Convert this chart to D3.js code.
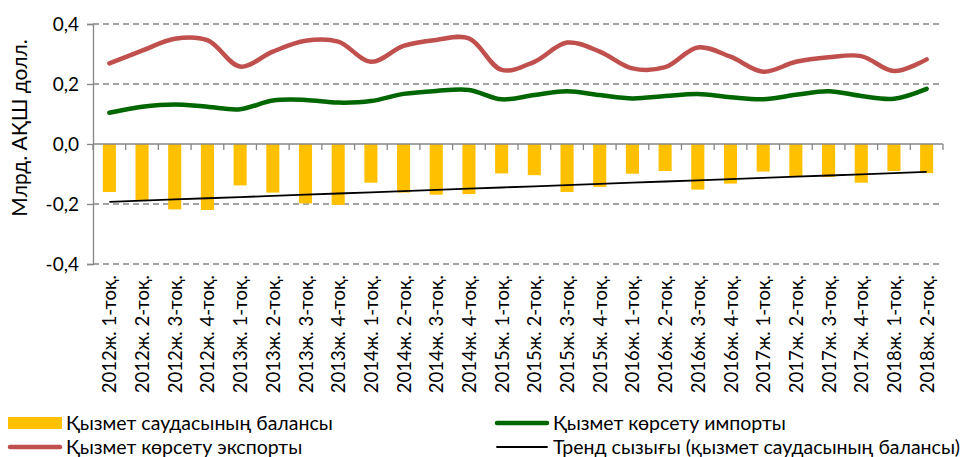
<!DOCTYPE html>
<html>
<head>
<meta charset="utf-8">
<script src="https://cdn.jsdelivr.net/npm/d3@7"></script>
<style>
body { margin: 0; background: #fff; }
svg { display: block; font-family: Lato, "Liberation Sans", sans-serif; }
</style>
</head>
<body>
<div id="viz"></div>
<script>
// quarters
var quarters = ["2012ж. 1-тоқ.", "2012ж. 2-тоқ.", "2012ж. 3-тоқ.", "2012ж. 4-тоқ.",
	"2013ж. 1-тоқ.", "2013ж. 2-тоқ.", "2013ж. 3-тоқ.", "2013ж. 4-тоқ.",
	"2014ж. 1-тоқ.", "2014ж. 2-тоқ.", "2014ж. 3-тоқ.", "2014ж. 4-тоқ.",
	"2015ж. 1-тоқ.", "2015ж. 2-тоқ.", "2015ж. 3-тоқ.", "2015ж. 4-тоқ.",
	"2016ж. 1-тоқ.", "2016ж. 2-тоқ.", "2016ж. 3-тоқ.", "2016ж. 4-тоқ.",
	"2017ж. 1-тоқ.", "2017ж. 2-тоқ.", "2017ж. 3-тоқ.", "2017ж. 4-тоқ.",
	"2018ж. 1-тоқ.", "2018ж. 2-тоқ."];

// service trade balance
var balance = [-0.160, -0.187, -0.218, -0.220, -0.138, -0.162, -0.198, -0.203,
	-0.129, -0.162, -0.169, -0.167, -0.098, -0.104, -0.160, -0.143,
	-0.099, -0.090, -0.152, -0.132, -0.092, -0.108, -0.110, -0.129,
	-0.090, -0.097];

// services import
var imports = [0.104, 0.124, 0.132, 0.124, 0.116, 0.145, 0.147, 0.138,
	0.143, 0.167, 0.177, 0.180, 0.149, 0.163, 0.176, 0.163,
	0.152, 0.160, 0.167, 0.156, 0.149, 0.164, 0.176, 0.160,
	0.151, 0.184];

// services export
var exportsData = [0.269, 0.311, 0.351, 0.346, 0.258, 0.308, 0.344, 0.341,
	0.274, 0.327, 0.347, 0.352, 0.247, 0.274, 0.338, 0.308,
	0.252, 0.256, 0.322, 0.291, 0.241, 0.274, 0.289, 0.293,
	0.243, 0.282];

var yTicks = [-0.4, -0.2, 0, 0.2, 0.4];

var legendNames = ["Қызмет саудасының балансы", "Қызмет көрсету импорты",
	"Қызмет көрсету экспорты", "Тренд сызығы (қызмет саудасының балансы)"];

var width = 965, height = 457;
var plotLeft = 93, plotRight = 943, plotTop = 24, plotBottom = 264;

var svg = d3.select("#viz").append("svg")
	.attr("width", width)
	.attr("height", height);

var x = d3.scaleBand().domain(quarters).range([plotLeft, plotRight]);
var y = d3.scaleLinear().domain([-0.4, 0.4]).range([plotBottom, plotTop]);
var cx = function(d){ return x(d) + x.bandwidth() / 2; };
var fmt = function(v){ return d3.format(".1f")(v).replace(".", ",").replace("−", "-"); };

// gridlines
svg.append("g").selectAll("line")
	.data(yTicks.filter(function(t){ return t != 0; }))
	.join("line")
	.attr("x1", plotLeft).attr("x2", plotRight)
	.attr("y1", function(d){ return y(d); })
	.attr("y2", function(d){ return y(d); })
	.style("stroke", "#868686")
	.style("stroke-width", 1.3)
	.style("stroke-dasharray", "6,4");

// y axis
var yAxis = svg.append("g")
	.attr("transform", "translate(" + plotLeft + ",0)")
	.call(d3.axisLeft(y).tickValues(yTicks).tickFormat(fmt).tickSize(6).tickPadding(8));
yAxis.select(".domain").style("stroke", "#868686").style("stroke-width", 1.3);
yAxis.selectAll(".tick line").style("stroke", "#868686").style("stroke-width", 1.3);
yAxis.selectAll("text").style("font-size", "19px").style("fill", "#000")
	.style("font-family", "Lato, sans-serif");

svg.append("text")
	.attr("transform", "translate(27,128) rotate(-90)")
	.attr("text-anchor", "middle")
	.style("font-size", "21px")
	.text("Млрд. АҚШ долл.");

// bars
var barW = x.bandwidth() * 0.4;
svg.append("g").selectAll("rect")
	.data(balance)
	.join("rect")
	.attr("x", function(d, i){ return cx(quarters[i]) - barW / 2; })
	.attr("y", function(d){ return y(Math.max(0, d)); })
	.attr("width", barW)
	.attr("height", function(d){ return Math.abs(y(d) - y(0)); })
	.style("fill", "#FFC000");

// zero axis with category ticks
svg.append("line")
	.attr("x1", plotLeft).attr("x2", plotRight)
	.attr("y1", y(0)).attr("y2", y(0))
	.style("stroke", "#868686").style("stroke-width", 1.3);
var bounds = quarters.map(function(d){ return x(d); }).concat([plotRight]);
svg.append("g").selectAll("line")
	.data(bounds)
	.join("line")
	.attr("x1", function(d){ return d; }).attr("x2", function(d){ return d; })
	.attr("y1", y(0)).attr("y2", y(0) + 6)
	.style("stroke", "#868686").style("stroke-width", 1.3);

// category labels
svg.append("g").selectAll("text")
	.data(quarters)
	.join("text")
	.attr("transform", function(d){ return "translate(" + (cx(d) + 7) + "," + (plotBottom + 11) + ") rotate(-90)"; })
	.attr("text-anchor", "end")
	.style("font-size", "18.5px")
	.text(function(d){ return d; });

// trend line (least squares over balance)
var mx = d3.mean(balance, function(d, i){ return i; });
var my = d3.mean(balance);
var slope = d3.sum(balance, function(d, i){ return (i - mx) * (d - my); }) /
	d3.sum(balance, function(d, i){ return (i - mx) * (i - mx); });
var trend = balance.map(function(d, i){ return my + slope * (i - mx); });

var line = d3.line()
	.x(function(d, i){ return cx(quarters[i]); })
	.y(function(d){ return y(d); });
var smooth = d3.line()
	.x(function(d, i){ return cx(quarters[i]); })
	.y(function(d){ return y(d); })
	.curve(d3.curveCatmullRom.alpha(0.5));

svg.append("path").datum(trend)
	.attr("d", line)
	.style("fill", "none").style("stroke", "#000").style("stroke-width", 1.8);

svg.append("path").datum(exportsData)
	.attr("d", smooth)
	.style("fill", "none").style("stroke", "#C0504D").style("stroke-width", 4.5)
	.style("stroke-linecap", "round");

svg.append("path").datum(imports)
	.attr("d", smooth)
	.style("fill", "none").style("stroke", "#006600").style("stroke-width", 4.5)
	.style("stroke-linecap", "round");

// legend
var legend = [
	{ name: legendNames[0], x: 8, y: 423, type: "rect", color: "#FFC000" },
	{ name: legendNames[1], x: 495, y: 423, type: "line", color: "#006600", w: 4.5 },
	{ name: legendNames[2], x: 8, y: 447, type: "line", color: "#C0504D", w: 4.5 },
	{ name: legendNames[3], x: 495, y: 447, type: "line", color: "#000", w: 1.8 }
];
var lg = svg.append("g").selectAll("g").data(legend).join("g")
	.attr("transform", function(d){ return "translate(" + d.x + "," + d.y + ")"; });
lg.filter(function(d){ return d.type == "rect"; }).append("rect")
	.attr("x", 0).attr("y", -6).attr("width", 54).attr("height", 12)
	.style("fill", function(d){ return d.color; });
lg.filter(function(d){ return d.type == "line"; }).append("line")
	.attr("x1", 2).attr("x2", 52).attr("y1", 0).attr("y2", 0)
	.style("stroke", function(d){ return d.color; })
	.style("stroke-width", function(d){ return d.w; })
	.style("stroke-linecap", "round");
lg.append("text")
	.attr("x", 58).attr("y", 6.5)
	.style("font-size", "19.5px")
	.text(function(d){ return d.name; });
</script>
</body>
</html>
